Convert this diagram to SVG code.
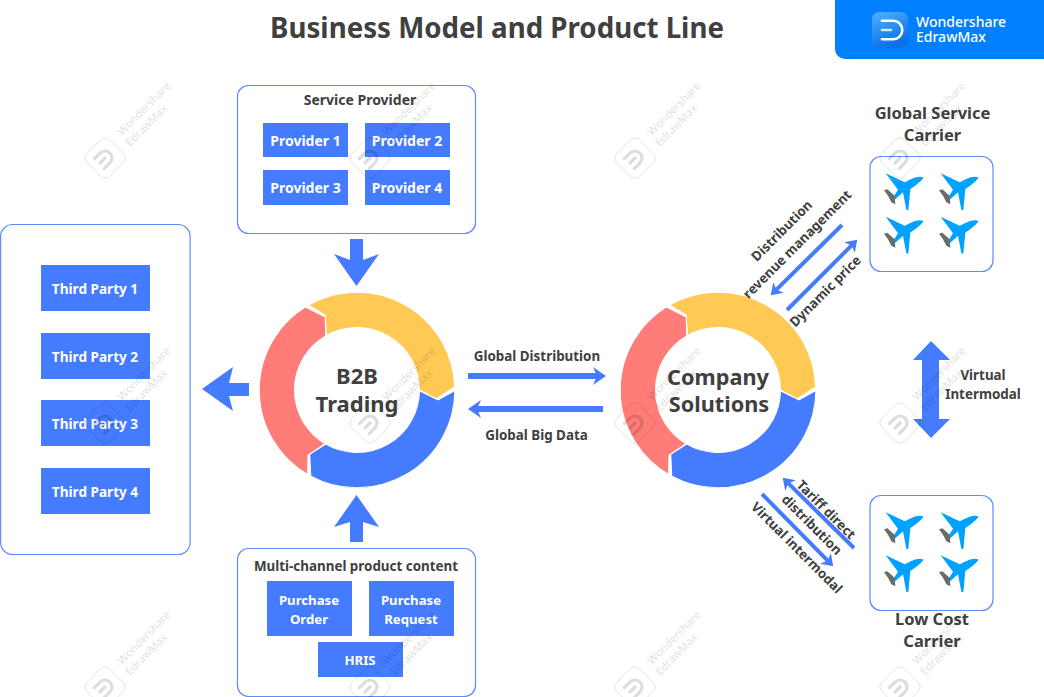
<svg xmlns="http://www.w3.org/2000/svg" xmlns:xlink="http://www.w3.org/1999/xlink" width="1044" height="697" viewBox="0 0 1044 697">
<style>
text{font-family:"Noto Sans","Open Sans","Liberation Sans",sans-serif;font-weight:700;fill:#404040;text-anchor:middle}
.box{fill:#fff;stroke:#5f8bff;stroke-width:1.2}
.cell{fill:#457bff}
.w{fill:#fff;font-size:13.200px}
.p{fill:#fff;font-size:14px}
.t{fill:#fff;font-size:13.600px}
.l{font-size:13.400px}
.d{font-size:13.300px}
.big{font-size:22px}
.c{font-size:16.500px}
.arrow{fill:#457bff}
.thin{stroke:#457bff;fill:none}
.wm text{font-family:"Open Sans",sans-serif;font-weight:400;font-size:11px;fill:#000;text-anchor:start}
</style>
<defs>
<linearGradient id="lg" x1="0" y1="0" x2="0.4" y2="1"><stop offset="0" stop-color="#4fb3ff"/><stop offset="1" stop-color="#0b6fe6"/></linearGradient>
<marker id="hl" markerUnits="userSpaceOnUse" markerWidth="22" markerHeight="22" viewBox="-2 -11 18 22" refX="4" refY="0" orient="auto"><path d="M0 -9L13 0L0 9L4 0Z" fill="#457bff"/></marker>
<marker id="hs" markerUnits="userSpaceOnUse" markerWidth="18" markerHeight="18" viewBox="-2 -9 16 18" refX="3" refY="0" orient="auto"><path d="M0 -7.500L11 0L0 7.500L3 0Z" fill="#457bff"/></marker>
<path id="seg" d="M-48.500 -85A97.800 97.800 0 0 1 97.700 -3L79 9L62.500 0A62.500 62.500 0 0 0 -30.500 -54.500L-32 -75Z" stroke="#fff" stroke-width="1.100"/>
<g id="plane">
<path d="M119 14C108 27 95 38 79 48L73 112L67 110L57 58L28 84L22 82L42 50L5 1L62 28C80 18 105 5 119 14Z" fill="#00a2ff" transform="scale(.3333)"/>
<path d="M0 52L10 49L32 68L34 94L22 88L12 68Z" fill="#6b6b6b" transform="scale(.3333)"/>
</g>
<g id="wm" class="wm" opacity=".13">
<rect x="-16" y="-16" width="32" height="32" rx="6" fill="none" stroke="#000" stroke-width=".8" transform="rotate(-45)"/>
<path d="M-8 -7H0A7 7 0 0 1 0 7H-8M-7 0H0" fill="none" stroke="#000" stroke-width="3.200" stroke-linecap="round" transform="rotate(-45)"/>
<text transform="translate(17 -22) rotate(-45)">Wondershare</text>
<text transform="translate(25 -11) rotate(-45)">EdrawMax</text>
</g>
</defs>
<rect width="1044" height="697" fill="#fff"/>
<g id="title"><text x="497" y="38" style="font-size:27.700px">Business Model and Product Line</text></g>
<g id="brand">
<path d="M835 0H1044V59H845A10 10 0 0 1 835 49Z" fill="#0080ff"/>
<rect x="872" y="12" width="36" height="36" rx="7" fill="url(#lg)"/>
<path d="M882 20.700H893A9.300 9.300 0 0 1 893 39.300H882" fill="none" stroke="#fff" stroke-width="2.600" stroke-linecap="round"/>
<path d="M882 30H891" fill="none" stroke="#cfe6ff" stroke-width="2.600" stroke-linecap="round"/>
<text x="916" y="27" style="font-size:14px;font-weight:500;fill:#fff;text-anchor:start">Wondershare</text>
<text x="916" y="42" style="font-size:14px;font-weight:500;fill:#fff;text-anchor:start">EdrawMax</text>
</g>
<g id="service-provider">
<rect class="box" x="237.500" y="85.500" width="238" height="148" rx="11"/>
<text style="font-size:14px" x="360" y="105">Service Provider</text>
<rect class="cell" x="263" y="123" width="85" height="34"/><text class="p" x="305.500" y="146">Provider 1</text>
<rect class="cell" x="365" y="123" width="85" height="34"/><text class="p" x="407" y="146">Provider 2</text>
<rect class="cell" x="263" y="170" width="85" height="35"/><text class="p" x="305.500" y="193">Provider 3</text>
<rect class="cell" x="365" y="170" width="85" height="35"/><text class="p" x="407" y="193">Provider 4</text>
</g>
<g id="third-party">
<rect class="box" x="0.600" y="224.500" width="189.500" height="330" rx="12"/>
<rect class="cell" x="41" y="265" width="109" height="46"/><text class="t" x="95" y="294">Third Party 1</text>
<rect class="cell" x="41" y="333" width="109" height="46"/><text class="t" x="95" y="362">Third Party 2</text>
<rect class="cell" x="41" y="400" width="109" height="46"/><text class="t" x="95" y="429">Third Party 3</text>
<rect class="cell" x="41" y="468" width="109" height="46"/><text class="t" x="95" y="497">Third Party 4</text>
</g>
<g id="multi-channel">
<rect class="box" x="237.500" y="548.500" width="238" height="148" rx="11"/>
<text class="l" x="356" y="571">Multi-channel product content</text>
<rect class="cell" x="267" y="581" width="85" height="55"/><text class="w" x="309" y="605">Purchase</text><text class="w" x="309" y="624">Order</text>
<rect class="cell" x="369" y="581" width="85" height="55"/><text class="w" x="411" y="605">Purchase</text><text class="w" x="411" y="624">Request</text>
<rect class="cell" x="318" y="642" width="85" height="35"/><text class="w" x="360" y="665">HRIS</text>
</g>
<g id="b2b-trading" transform="translate(357 390)">
<use href="#seg" fill="#ffc954"/>
<use href="#seg" fill="#457bff" transform="rotate(120)"/>
<use href="#seg" fill="#ff7c78" transform="rotate(240)"/>
<text class="big" x="0" y="-6">B2B</text>
<text class="big" x="0" y="22">Trading</text>
</g>
<g id="company-solutions" transform="translate(718 390)">
<use href="#seg" fill="#ffc954"/>
<use href="#seg" fill="#457bff" transform="rotate(120)"/>
<use href="#seg" fill="#ff7c78" transform="rotate(240)"/>
<text style="font-size:21.700px" x="0" y="-5">Company</text>
<text style="font-size:21.700px" x="1" y="22">Solutions</text>
</g>
<g id="global-service-carrier">
<text class="c" x="932.500" y="119">Global Service</text>
<text class="c" x="932.500" y="141">Carrier</text>
<rect class="box" x="870" y="156.500" width="123" height="115" rx="11"/>
<use href="#plane" x="884" y="173"/><use href="#plane" x="939" y="173"/>
<use href="#plane" x="884" y="216.500"/><use href="#plane" x="939" y="216.500"/>
</g>
<g id="low-cost-carrier">
<rect class="box" x="870" y="495.500" width="123" height="115" rx="11"/>
<use href="#plane" x="884" y="512"/><use href="#plane" x="939" y="512"/>
<use href="#plane" x="884" y="555"/><use href="#plane" x="939" y="555"/>
<text class="c" x="932" y="625">Low Cost</text>
<text class="c" x="932" y="647">Carrier</text>
</g>
<g id="connectors">
<path class="arrow" d="M350 239H363V260L379 254L356.500 286L334 254L350 260Z"/>
<path class="arrow" d="M350 542H363V522L379 527L356.500 495L334 527L350 522Z"/>
<path class="arrow" d="M249 383V396H229L233 411L202 389L233 367L229 383Z"/>
<path class="arrow" d="M931 341L950 360H939V419H950L931 438L913 419H922V360H913Z"/>
<path class="thin" stroke-width="6" marker-end="url(#hl)" d="M468 376H597"/>
<path class="thin" stroke-width="6" marker-end="url(#hl)" d="M603 409H477"/>
<path class="thin" stroke-width="4" marker-end="url(#hs)" d="M842 225L776.400 289.600"/>
<path class="thin" stroke-width="4" marker-end="url(#hs)" d="M787 310L851.600 245.400"/>
<path class="thin" stroke-width="4" marker-end="url(#hs)" d="M854 548L788.400 483.400"/>
<path class="thin" stroke-width="4" marker-end="url(#hs)" d="M762 494L827.600 560.600"/>
<text class="l" x="537" y="361">Global Distribution</text>
<text class="l" x="536.500" y="440">Global Big Data</text>
<text class="l" x="983" y="380">Virtual</text>
<text class="l" x="983" y="399">Intermodal</text>
<text class="d" transform="translate(785 234) rotate(-45)">Distribution</text>
<text class="d" transform="translate(800.500 247.500) rotate(-45)">revenue management</text>
<text class="d" transform="translate(828.500 294.500) rotate(-45)">Dynamic price</text>
<text class="d" transform="translate(823 513) rotate(45)">Tariff direct</text>
<text class="d" transform="translate(808.500 528) rotate(45)">distribution</text>
<text class="d" transform="translate(793.500 551) rotate(45)">Virtual intermodal</text>
</g>
<g id="watermarks">
<use href="#wm" x="105" y="158"/><use href="#wm" x="370" y="158"/><use href="#wm" x="635" y="158"/><use href="#wm" x="900" y="158"/>
<use href="#wm" x="105" y="423"/><use href="#wm" x="370" y="423"/><use href="#wm" x="635" y="423"/><use href="#wm" x="900" y="423"/>
<use href="#wm" x="105" y="687"/><use href="#wm" x="370" y="687"/><use href="#wm" x="635" y="687"/><use href="#wm" x="900" y="687"/>
</g>
</svg>
